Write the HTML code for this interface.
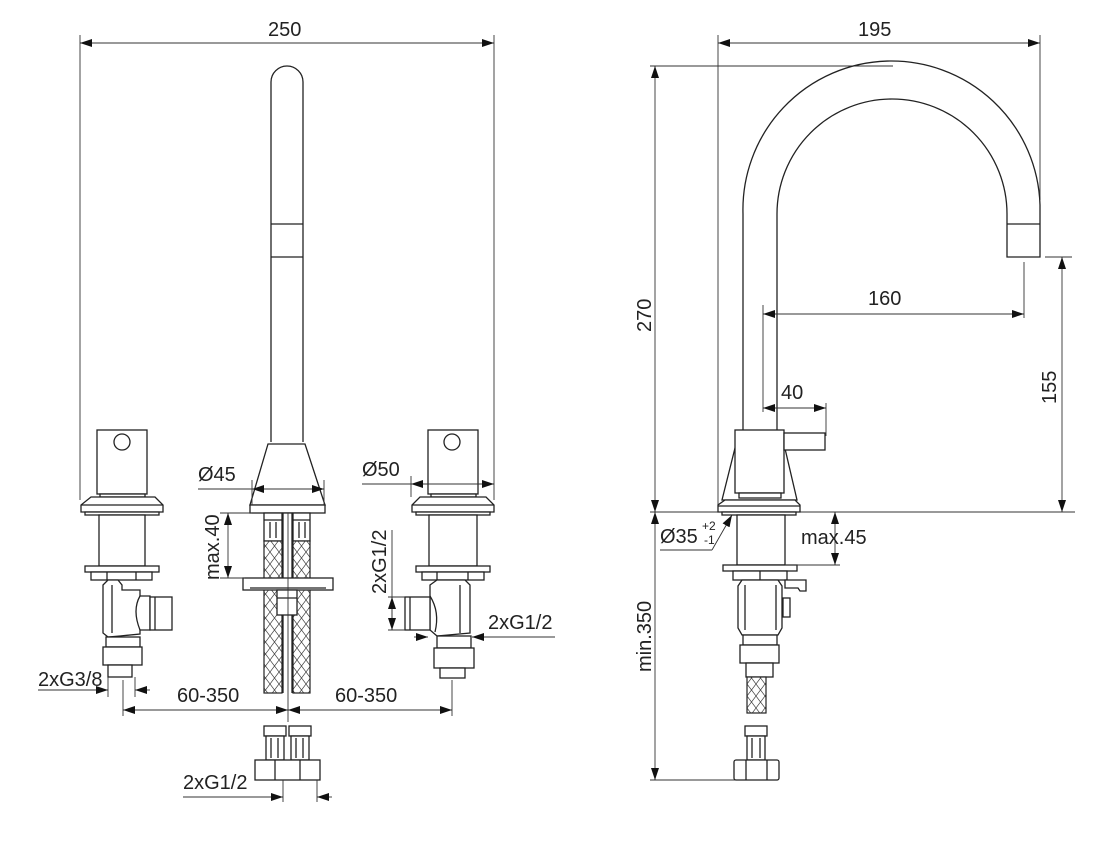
<!DOCTYPE html>
<html><head><meta charset="utf-8"><style>
html,body{margin:0;padding:0;background:#fff}
svg{display:block}
text{font-family:"Liberation Sans",sans-serif;font-size:20px;fill:#222}
.l{stroke:#222;stroke-width:1.3;fill:none}
.s{stroke:#222;stroke-width:1.3;fill:#fff}
.d{stroke:#333;stroke-width:0.9;fill:none}
</style></head><body>
<svg width="1116" height="845" viewBox="0 0 1116 845" xmlns="http://www.w3.org/2000/svg">
<defs>
<marker id="a" viewBox="0 0 12 8" refX="12" refY="4" markerWidth="12" markerHeight="8" markerUnits="userSpaceOnUse" orient="auto-start-reverse"><path d="M0,0 L12,4 L0,8 z" fill="#111"/></marker>
<pattern id="br" width="9" height="12" patternUnits="userSpaceOnUse"><rect width="9" height="12" fill="#fff"/><path d="M0,0 L9,12 M9,0 L0,12" stroke="#444" stroke-width="0.7"/></pattern>
</defs>

<!-- ===== LEFT VIEW ===== -->
<line class="d" x1="80" y1="35" x2="80" y2="500"/>
<line class="d" x1="494" y1="35" x2="494" y2="500"/>
<line class="d" x1="80" y1="43" x2="494" y2="43" marker-start="url(#a)" marker-end="url(#a)"/>
<text x="268" y="36">250</text>

<!-- left valve -->
<g>
<rect class="s" x="97" y="430" width="50" height="64"/>
<circle class="l" cx="122" cy="442" r="8"/>
<rect class="s" x="100" y="494" width="45" height="3"/>
<path class="s" d="M91,497 L155,497 L163,505 L163,512 L81,512 L81,505 Z"/>
<line class="l" x1="81" y1="505" x2="163" y2="505"/>
<rect class="s" x="85" y="512" width="74" height="3"/>
<rect class="s" x="99" y="515" width="46" height="51"/>
<rect class="s" x="85" y="566" width="74" height="6"/>
<rect class="s" x="91" y="572" width="61" height="8"/>
<line class="l" x1="107" y1="572" x2="107" y2="580"/><line class="l" x1="136" y1="572" x2="136" y2="580"/>
<path class="s" d="M103,585 L108,580 L118,580 L122,585 L122,590 L140,590 L140,596 L150,596 L150,630 L140,630 L140,634 L120,636 L108,637 L103,633 Z"/>
<line class="l" x1="112" y1="585" x2="112" y2="633"/>
<path class="l" d="M140,596 Q132,610 140,630"/>
<rect class="s" x="150" y="597" width="22" height="33"/>
<line class="l" x1="155" y1="597" x2="155" y2="630"/>
<rect class="s" x="106" y="637" width="34" height="10"/>
<rect class="s" x="103" y="647" width="39" height="18"/>
<rect class="s" x="108" y="665" width="24" height="12"/>
</g>
<line class="d" x1="108" y1="677" x2="108" y2="697"/>
<line class="d" x1="135" y1="677" x2="135" y2="697"/>
<line class="d" x1="38" y1="690" x2="108" y2="690" marker-end="url(#a)"/>
<line class="d" x1="150" y1="690" x2="135" y2="690" marker-end="url(#a)"/>
<text x="38" y="686">2xG3/8</text>

<!-- center spout -->
<path class="l" d="M271,442 L271,82 A16,16 0 0 1 303,82 L303,442"/>
<line class="l" x1="271" y1="224" x2="303" y2="224"/>
<line class="l" x1="271" y1="257" x2="303" y2="257"/>
<path class="s" d="M268,444 L305,444 L325,505 L250,505 Z"/>
<rect class="s" x="250" y="505" width="75" height="8"/>
<line class="d" x1="252" y1="480" x2="252" y2="505"/>
<line class="d" x1="324" y1="480" x2="324" y2="505"/>
<line class="d" x1="198" y1="489" x2="252" y2="489"/>
<line class="d" x1="288" y1="489" x2="252" y2="489" marker-end="url(#a)"/>
<line class="d" x1="288" y1="489" x2="324" y2="489" marker-end="url(#a)"/>
<text x="198" y="481">Ø45</text>
<rect class="s" x="264" y="513" width="18" height="28"/>
<rect class="s" x="293" y="513" width="17" height="28"/>
<line class="l" x1="264" y1="520" x2="282" y2="520"/><line class="l" x1="293" y1="520" x2="310" y2="520"/>
<line class="l" x1="270" y1="522" x2="270" y2="538"/><line class="l" x1="276" y1="522" x2="276" y2="538"/>
<line class="l" x1="299" y1="522" x2="299" y2="538"/><line class="l" x1="305" y1="522" x2="305" y2="538"/>
<rect x="264" y="541" width="18" height="152" fill="url(#br)" stroke="#222" stroke-width="1.2"/>
<rect x="293" y="541" width="17" height="152" fill="url(#br)" stroke="#222" stroke-width="1.2"/>
<rect class="s" x="283" y="513" width="9" height="67"/>
<rect class="s" x="243" y="578" width="90" height="12"/>
<line class="l" x1="250" y1="588" x2="326" y2="588"/>
<rect class="s" x="277" y="590" width="20" height="25"/>
<line class="l" x1="277" y1="598" x2="297" y2="598"/>
<line class="l" x1="283" y1="615" x2="283" y2="693"/><line class="l" x1="292" y1="615" x2="292" y2="693"/>
<!-- max.40 -->
<line class="d" x1="220" y1="513" x2="252" y2="513"/>
<line class="d" x1="220" y1="578" x2="245" y2="578"/>
<line class="d" x1="228" y1="513" x2="228" y2="578" marker-start="url(#a)" marker-end="url(#a)"/>
<text transform="translate(219,580) rotate(-90)">max.40</text>

<!-- 60-350 -->
<line class="d" x1="288" y1="513" x2="288" y2="722"/>
<line class="d" x1="123" y1="680" x2="123" y2="716"/>
<line class="d" x1="452" y1="680" x2="452" y2="716"/>
<line class="d" x1="200" y1="710" x2="123" y2="710" marker-end="url(#a)"/>
<line class="d" x1="270" y1="710" x2="288" y2="710" marker-end="url(#a)"/>
<line class="d" x1="306" y1="710" x2="288" y2="710" marker-end="url(#a)"/>
<line class="d" x1="400" y1="710" x2="452" y2="710" marker-end="url(#a)"/>
<line class="d" x1="200" y1="710" x2="270" y2="710"/><line class="d" x1="306" y1="710" x2="400" y2="710"/>
<text x="177" y="702">60-350</text>
<text x="335" y="702">60-350</text>

<!-- bottom connectors -->
<g>
<rect class="s" x="264" y="726" width="22" height="10"/>
<rect class="s" x="289" y="726" width="22" height="10"/>
<rect class="s" x="266" y="736" width="18" height="24"/>
<rect class="s" x="291" y="736" width="18" height="24"/>
<line class="l" x1="271" y1="738" x2="271" y2="758"/><line class="l" x1="278" y1="738" x2="278" y2="758"/>
<line class="l" x1="296" y1="738" x2="296" y2="758"/><line class="l" x1="303" y1="738" x2="303" y2="758"/>
<rect class="s" x="255" y="760" width="65" height="20"/>
<line class="l" x1="275" y1="760" x2="275" y2="780"/><line class="l" x1="300" y1="760" x2="300" y2="780"/>
</g>
<line class="d" x1="283" y1="780" x2="283" y2="802"/>
<line class="d" x1="317" y1="780" x2="317" y2="802"/>
<line class="d" x1="183" y1="797" x2="283" y2="797" marker-end="url(#a)"/>
<line class="d" x1="332" y1="797" x2="317" y2="797" marker-end="url(#a)"/>
<text x="183" y="789">2xG1/2</text>

<!-- right valve -->
<g>
<rect class="s" x="428" y="430" width="50" height="64"/>
<circle class="l" cx="452" cy="442" r="8"/>
<rect class="s" x="431" y="494" width="45" height="3"/>
<path class="s" d="M420,497 L486,497 L494,505 L494,512 L412,512 L412,505 Z"/>
<line class="l" x1="412" y1="505" x2="494" y2="505"/>
<rect class="s" x="416" y="512" width="74" height="3"/>
<rect class="s" x="429" y="515" width="48" height="51"/>
<rect class="s" x="416" y="566" width="74" height="6"/>
<rect class="s" x="422" y="572" width="62" height="8"/>
<line class="l" x1="437" y1="572" x2="437" y2="580"/><line class="l" x1="468" y1="572" x2="468" y2="580"/>
<path class="s" d="M430,585 L437,580 L465,580 L470,585 L470,633 L437,636 L430,630 Z"/>
<line class="l" x1="460" y1="585" x2="460" y2="633"/>
<path class="l" d="M430,596 Q440,612 435,632"/>
<rect class="s" x="405" y="597" width="25" height="33"/>
<line class="l" x1="410" y1="597" x2="410" y2="630"/>
<rect class="s" x="437" y="636" width="34" height="12"/>
<rect class="s" x="434" y="648" width="40" height="20"/>
<rect class="s" x="440" y="668" width="25" height="10"/>
</g>
<line class="d" x1="411" y1="476" x2="411" y2="497"/>
<line class="d" x1="362" y1="484" x2="411" y2="484"/>
<line class="d" x1="452" y1="484" x2="411" y2="484" marker-end="url(#a)"/>
<line class="d" x1="452" y1="484" x2="494" y2="484" marker-end="url(#a)"/>
<text x="362" y="476">Ø50</text>
<line class="d" x1="388" y1="597" x2="405" y2="597"/>
<line class="d" x1="388" y1="630" x2="405" y2="630"/>
<line class="d" x1="392" y1="530" x2="392" y2="630"/>
<line class="d" x1="392" y1="613" x2="392" y2="597" marker-end="url(#a)"/>
<line class="d" x1="392" y1="613" x2="392" y2="630" marker-end="url(#a)"/>
<text transform="translate(386,594) rotate(-90)">2xG1/2</text>
<line class="d" x1="414" y1="637" x2="428" y2="637" marker-end="url(#a)"/>
<line class="d" x1="555" y1="637" x2="472" y2="637" marker-end="url(#a)"/>
<text x="488" y="629">2xG1/2</text>

<!-- ===== RIGHT VIEW ===== -->
<line class="d" x1="718" y1="35" x2="718" y2="505"/>
<line class="d" x1="1040" y1="35" x2="1040" y2="200"/>
<line class="d" x1="718" y1="43" x2="1040" y2="43" marker-start="url(#a)" marker-end="url(#a)"/>
<text x="858" y="36">195</text>
<line class="d" x1="650" y1="66" x2="893" y2="66"/>
<line class="d" x1="650" y1="512" x2="1075" y2="512"/>
<line class="d" x1="650" y1="780" x2="740" y2="780"/>
<line class="d" x1="655" y1="66" x2="655" y2="512" marker-start="url(#a)" marker-end="url(#a)"/>
<line class="d" x1="655" y1="512" x2="655" y2="780" marker-start="url(#a)" marker-end="url(#a)"/>
<text transform="translate(651,332) rotate(-90)">270</text>
<text transform="translate(651,672) rotate(-90)">min.350</text>
<path class="l" d="M743,430 L743,214 A148,148 0 0 1 1040,205 L1040,257 L1007,257 L1007,214 A115,115 0 0 0 777,214 L777,430"/>
<line class="l" x1="1007" y1="224" x2="1040" y2="224"/>
<line class="d" x1="1045" y1="257" x2="1072" y2="257"/>
<line class="d" x1="1062" y1="257" x2="1062" y2="512" marker-start="url(#a)" marker-end="url(#a)"/>
<text transform="translate(1056,404) rotate(-90)">155</text>
<line class="d" x1="1024" y1="262" x2="1024" y2="318"/>
<line class="d" x1="763" y1="305" x2="763" y2="412"/>
<line class="d" x1="763" y1="314" x2="1024" y2="314" marker-start="url(#a)" marker-end="url(#a)"/>
<text x="868" y="305">160</text>
<line class="d" x1="826" y1="403" x2="826" y2="436"/>
<line class="d" x1="763" y1="408" x2="826" y2="408" marker-start="url(#a)" marker-end="url(#a)"/>
<text x="781" y="399">40</text>
<path class="s" d="M737,440 L783,440 L797,500 L722,500 Z"/>
<rect class="s" x="735" y="430" width="49" height="63"/>
<rect class="s" x="784" y="433" width="41" height="17"/>
<rect class="s" x="739" y="493" width="42" height="5"/>
<path class="s" d="M725,500 L795,500 L800,505 L800,512 L718,512 L718,505 Z"/>
<line class="l" x1="718" y1="506" x2="800" y2="506"/>
<rect class="s" x="722" y="512" width="74" height="3"/>
<rect class="s" x="737" y="515" width="48" height="50"/>
<rect class="s" x="723" y="565" width="74" height="6"/>
<rect class="s" x="733" y="571" width="54" height="9"/>
<line class="l" x1="760" y1="571" x2="760" y2="580"/>
<path class="s" d="M785,580 L806,580 L806,591 L800,591 L798,588 L785,588 Z"/>
<rect class="s" x="783" y="598" width="7" height="19"/>
<path class="s" d="M738,586 L742,580 L778,580 L782,586 L782,628 L778,635 L742,635 L738,628 Z"/>
<line class="l" x1="745" y1="585" x2="745" y2="630"/>
<line class="l" x1="776" y1="585" x2="776" y2="630"/>
<rect class="s" x="743" y="635" width="34" height="10"/>
<rect class="s" x="740" y="645" width="39" height="18"/>
<rect class="s" x="746" y="663" width="27" height="14"/>
<rect x="747" y="677" width="19" height="36" fill="url(#br)" stroke="#222" stroke-width="1.2"/>
<rect class="s" x="745" y="726" width="22" height="10"/>
<rect class="s" x="747" y="736" width="18" height="24"/>
<line class="l" x1="752" y1="738" x2="752" y2="758"/><line class="l" x1="760" y1="738" x2="760" y2="758"/>
<rect class="s" x="734" y="760" width="45" height="20" rx="2"/>
<line class="l" x1="746" y1="760" x2="746" y2="780"/><line class="l" x1="767" y1="760" x2="767" y2="780"/>
<line class="d" x1="660" y1="550" x2="712" y2="550"/>
<line class="d" x1="712" y1="550" x2="732" y2="515" marker-end="url(#a)"/>
<text x="660" y="543">Ø35</text>
<text x="702" y="530" style="font-size:12px">+2</text>
<text x="704" y="544" style="font-size:12px">-1</text>
<line class="d" x1="785" y1="565" x2="840" y2="565"/>
<line class="d" x1="835" y1="512" x2="835" y2="565" marker-start="url(#a)" marker-end="url(#a)"/>
<text x="801" y="544">max.45</text>
</svg>
</body></html>
